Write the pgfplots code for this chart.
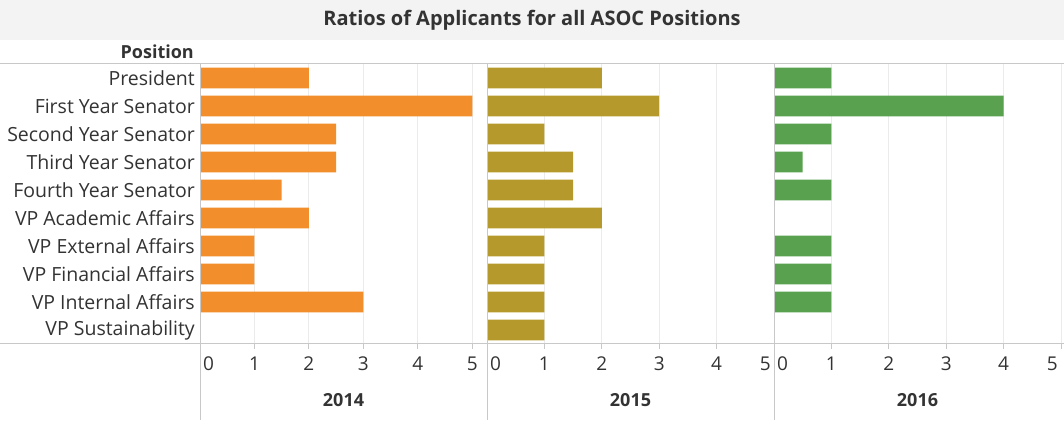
\documentclass[border=0pt]{standalone}
\usepackage{fontspec}
\setmainfont{Open Sans}
\usepackage{pgfplots}
\pgfplotsset{compat=1.18}

\definecolor{c14}{HTML}{F28E2B}
\definecolor{c15}{HTML}{B6992D}
\definecolor{c16}{HTML}{59A14F}
\definecolor{border}{HTML}{C8C8C8}
\definecolor{gridc}{HTML}{EBEBEB}
\definecolor{txt}{HTML}{333333}
\definecolor{band}{HTML}{F3F3F3}

\pgfplotsset{
  panel/.style={
    scale only axis, width=287pt, height=280pt,
    xbar, bar width=20.7pt, bar shift=0pt,
    ymin=-0.5, ymax=9.5, y dir=reverse,
    ytick=\empty,
    xmin=0, xmax=5,
    xtick={0,...,5},
    xticklabels={\makebox[0pt][l]{\,0},1,2,3,4,\makebox[0pt][r]{5\,}},
    xmajorgrids, major grid style={color=gridc, line width=1pt},
    xtick align=outside, xtick pos=left, major tick length=5pt,
    tick style={color=border, line width=1pt},
    axis line style={draw=none},
    /pgf/number format/assume math mode=true,
    xticklabel style={font=\fontsize{19}{22}\selectfont, text=txt, anchor=north, inner sep=0pt, yshift=-8pt},
    xlabel style={font=\bfseries\fontsize{18}{22}\selectfont, text=txt, at={(axis description cs:0.5,0)}, anchor=center, yshift=-56pt},
  },
}

\begin{document}
\begin{tikzpicture}[x=1pt,y=1pt]
\path[use as bounding box] (0,0) rectangle (1064,430);
% title band
\fill[band] (0,390) rectangle (1064,430);
\node[font=\bfseries\fontsize{20}{24}\selectfont, text=txt] at (532,410) {Ratios of Applicants for all ASOC Positions};
\node[font=\bfseries\fontsize{18}{22}\selectfont, text=txt, anchor=east, inner sep=0pt] at (194,378) {Position};

% 2014
\begin{axis}[panel, at={(200pt,86pt)}, anchor=south west,
  xmax=5.27,
  xticklabels={\makebox[0pt][l]{\,0},1,2,3,4,5},
  ytick={0,...,9},
  yticklabels={President, First Year Senator, Second Year Senator, Third Year Senator, Fourth Year Senator, VP Academic Affairs, VP External Affairs, VP Financial Affairs, VP Internal Affairs, VP Sustainability},
  ytick style={draw=none},
  yticklabel style={font=\fontsize{19.5}{22}\selectfont, text=txt, anchor=east, inner sep=0pt, xshift=0pt},
  xlabel={2014}]
\addplot[fill=c14, draw=none] coordinates {
  (2,0) (5,1) (2.5,2) (2.5,3) (1.5,4) (2,5) (1,6) (1,7) (3,8)
};
\end{axis}

% 2015
\begin{axis}[panel, at={(487pt,86pt)}, anchor=south west, xlabel={2015}]
\addplot[fill=c15, draw=none] coordinates {
  (2,0) (3,1) (1,2) (1.5,3) (1.5,4) (2,5) (1,6) (1,7) (1,8) (1,9)
};
\end{axis}

% 2016
\begin{axis}[panel, at={(774pt,86pt)}, anchor=south west, xlabel={2016}]
\addplot[fill=c16, draw=none] coordinates {
  (1,0) (4,1) (1,2) (0.5,3) (1,4) (1,6) (1,7) (1,8)
};
\end{axis}

% panel borders
\draw[border, line width=1pt] (0,366) -- (1064,366);
\draw[border, line width=1pt] (0,86) -- (1064,86);
\foreach \xx in {200,487,774} \draw[border, line width=1pt] (\xx,366) -- (\xx,10);
\end{tikzpicture}
\end{document}
